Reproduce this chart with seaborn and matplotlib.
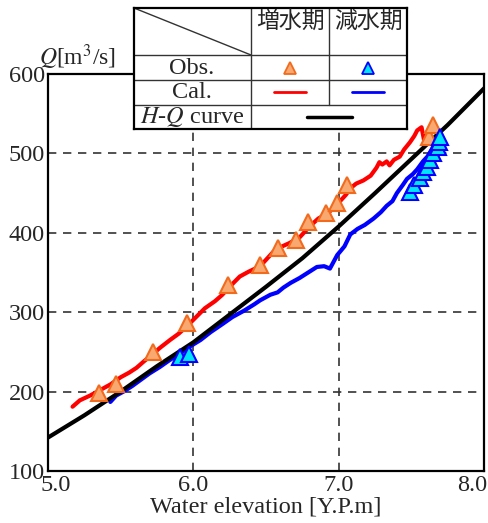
import matplotlib
matplotlib.use("Agg")
import matplotlib.pyplot as plt
import matplotlib.transforms as mtransforms
import seaborn as sns
import pandas as pd

# H-Q rating curve
hq_level = [5.0, 5.25, 5.5, 5.75, 6.0, 6.25, 6.5, 6.75, 7.0, 7.25, 7.5, 7.75, 8.0]
hq_discharge = [142, 170, 200, 232, 262, 297, 332, 368, 408, 450, 493, 536, 582]

# calculated, rising stage (増水期)
rise_cal_level = [5.17, 5.22, 5.29, 5.36, 5.43, 5.50, 5.56, 5.61, 5.66, 5.70, 5.77, 5.84,
                  5.90, 5.96, 6.02, 6.08, 6.15, 6.20, 6.25, 6.32, 6.38, 6.46, 6.50, 6.55,
                  6.60, 6.66, 6.73, 6.80, 6.86, 6.92, 6.97, 7.01, 7.05, 7.08, 7.12, 7.17,
                  7.22, 7.26, 7.28, 7.30, 7.33, 7.35, 7.38, 7.42, 7.45, 7.49, 7.52, 7.54,
                  7.57, 7.59, 7.61, 7.63, 7.66]
rise_cal_q = [181, 189, 195, 202, 209, 218, 224, 230, 238, 244, 255, 265,
              273, 283, 294, 305, 314, 322, 332, 345, 351, 358, 366, 376,
              382, 387, 394, 408, 418, 424, 432, 440, 448, 456, 462, 466,
              472, 482, 489, 486, 490, 485, 492, 496, 505, 514, 522, 529,
              533, 514, 527, 525, 533]

# calculated, falling stage (減水期)
fall_cal_level = [5.43, 5.47, 5.52, 5.58, 5.64, 5.70, 5.77, 5.84, 5.91, 5.97, 6.05, 6.12,
                  6.20, 6.27, 6.35, 6.42, 6.46, 6.53, 6.58, 6.62, 6.67, 6.73, 6.79, 6.85,
                  6.90, 6.94, 6.99, 7.04, 7.08, 7.13, 7.18, 7.24, 7.29, 7.33, 7.37, 7.40,
                  7.44, 7.47, 7.51, 7.54, 7.58, 7.61, 7.65, 7.68, 7.70]
fall_cal_q = [187, 195, 200, 207, 215, 223, 231, 240, 248, 256, 265, 275,
              285, 294, 302, 310, 315, 322, 325, 331, 337, 343, 350, 357,
              358, 355, 372, 383, 398, 405, 410, 418, 426, 434, 440, 450,
              460, 468, 474, 480, 490, 496, 508, 517, 526]

# observations
rise_obs_level = [5.35, 5.47, 5.72, 5.96, 6.24, 6.46, 6.58, 6.71, 6.79, 6.91, 6.99, 7.06, 7.62, 7.65]
rise_obs_q = [198, 210, 250, 286, 334, 359, 381, 391, 414, 425, 437, 460, 521, 536]
fall_obs_level = [5.91, 5.97, 7.49, 7.52, 7.56, 7.58, 7.61, 7.63, 7.65, 7.68, 7.69, 7.70]
fall_obs_q = [244, 247, 451, 460, 469, 477, 483, 492, 500, 508, 514, 521]

x_ticks = [5, 6, 7, 8]
x_ticklabels = ['5.0', '6.0', '7.0', '8.0']
y_ticks = [100, 200, 300, 400, 500, 600]

sns.set_style("white")
plt.rcParams['font.family'] = ['Liberation Serif', 'Noto Sans CJK JP', 'DejaVu Sans']
plt.rcParams['mathtext.fontset'] = 'stix'
fs = 17.5

fig = plt.figure(figsize=(4.88, 5.23), dpi=100)
ax = fig.add_axes([0.098, 0.0994, 0.894, 0.759])

df_hq = pd.DataFrame({'H': hq_level, 'Q': hq_discharge})
df_rc = pd.DataFrame({'H': rise_cal_level, 'Q': rise_cal_q})
df_fc = pd.DataFrame({'H': fall_cal_level, 'Q': fall_cal_q})
df_ro = pd.DataFrame({'H': rise_obs_level, 'Q': rise_obs_q})
df_fo = pd.DataFrame({'H': fall_obs_level, 'Q': fall_obs_q})

sns.lineplot(data=df_rc, x='H', y='Q', sort=False, color='#ff0000', lw=3, ax=ax, zorder=3)
sns.lineplot(data=df_fc, x='H', y='Q', sort=False, color='#0000ff', lw=3, ax=ax, zorder=3)
sns.lineplot(data=df_hq, x='H', y='Q', sort=False, color='black', lw=3, ax=ax, zorder=4)
ax.plot(df_ro['H'], df_ro['Q'], ls='none', marker='^', ms=11, mfc='#f9a870',
        mec='#f26b1d', mew=1.5, zorder=5)
ax.plot(df_fo['H'], df_fo['Q'], ls='none', marker='^', ms=11, mfc='#00e5ff',
        mec='#0000ff', mew=1.5, zorder=5)

ax.set_xlim(5.0, 8.0)
ax.set_ylim(100, 600)
ax.set_xticks(x_ticks)
ax.set_xticklabels(x_ticklabels)
ax.set_yticks(y_ticks)
ax.tick_params(length=0, labelsize=fs)
ax.tick_params(axis='x', pad=3)
ax.tick_params(axis='y', pad=2)
# nudge the end labels inward like the original
xl = ax.get_xticklabels()
xl[0].set_transform(xl[0].get_transform() + mtransforms.ScaledTranslation(8 / 100, 0, fig.dpi_scale_trans))
xl[-1].set_transform(xl[-1].get_transform() + mtransforms.ScaledTranslation(-12 / 100, 0, fig.dpi_scale_trans))

for t in [6, 7]:
    ax.axvline(t, color='#333333', lw=1.2, ls=(0, (5, 4)), zorder=1)
for t in [200, 300, 400, 500]:
    ax.axhline(t, color='#333333', lw=1.2, ls=(0, (5, 4)), zorder=1)
for s in ax.spines.values():
    s.set_color('black')
    s.set_linewidth(1.6)
ax.set_xlabel('Water elevation [Y.P.m]', fontsize=fs, labelpad=0)
ax.set_ylabel('')
fig.text(0.08, 0.891, '$Q$[m$^3$/s]', fontsize=17, ha='left', va='center')

# legend table
tb = fig.add_axes([134 / 488, (523 - 129) / 523, (407 - 134) / 488, (129 - 8) / 523])
tb.set_xlim(134, 407)
tb.set_ylim(129, 8)
tb.set_facecolor('white')
tb.set_xticks([])
tb.set_yticks([])
for s in tb.spines.values():
    s.set_linewidth(1.6)
    s.set_color('black')
grey = '#333333'
tb.plot([134, 251], [8, 55], color=grey, lw=1)
tb.plot([251, 251], [8, 129], color=grey, lw=1)
tb.plot([329, 329], [8, 105], color=grey, lw=1)
for yy in [55, 80, 105]:
    tb.plot([134, 407], [yy, yy], color=grey, lw=1)
tb.text(290, 22, '増水期', fontsize=16.5, ha='center', va='center')
tb.text(368, 22, '減水期', fontsize=16.5, ha='center', va='center')
tb.text(192, 68, 'Obs.', fontsize=fs, ha='center', va='center')
tb.text(192, 93, 'Cal.', fontsize=fs, ha='center', va='center')
tb.text(192, 117, '$H$-$Q$ curve', fontsize=fs, ha='center', va='center')
tb.plot([290], [68], marker='^', ms=8, mfc='#f9a870', mec='#f26b1d', mew=1.3)
tb.plot([368], [68], marker='^', ms=8, mfc='#00e5ff', mec='#0000ff', mew=1.3)
tb.plot([274, 306], [92, 92], color='#ff0000', lw=2)
tb.plot([352, 384], [92, 92], color='#0000ff', lw=2)
tb.plot([307, 352], [117, 117], color='black', lw=2.5)

fig.savefig('out.png', dpi=100)
